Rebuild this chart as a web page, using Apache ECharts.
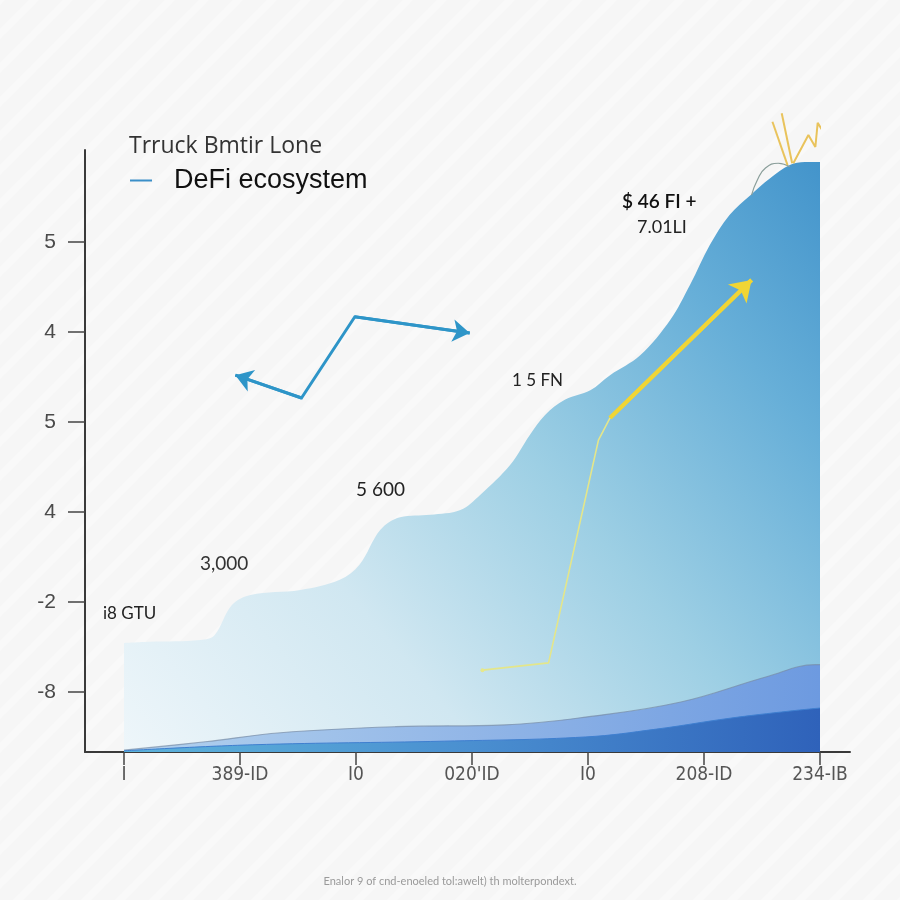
<!DOCTYPE html>
<html>
<head>
<meta charset="utf-8">
<script src="https://cdn.jsdelivr.net/npm/echarts@6/dist/echarts.min.js"></script>
<style>html,body{margin:0;padding:0;background:#f6f6f6}#c{width:900px;height:900px}</style>
</head>
<body>
<div id="c"></div>
<script>
// ---- tick labels ----
const xLabels = ['I', '389-ID', 'I0', "020'ID", 'I0', '208-ID', '234-IB'];
const yTickLabels = ['-8', '-2', '4', '5', '4', '5']; // bottom to top

// ---- main area (DeFi ecosystem) ----
const mainX = [0, 0.22, 0.66, 0.78, 0.93, 1.09, 1.52, 1.86, 2.03, 2.21, 2.38, 2.64, 2.90, 3.07, 3.33, 3.50, 3.63, 3.80, 4.02, 4.19, 4.45, 4.71, 4.88, 5.05, 5.22, 5.40, 5.57, 5.74, 5.87, 6.00];
const mainY = [18.1, 18.3, 18.6, 19.4, 24.4, 26.1, 26.9, 28.6, 31.1, 36.9, 39.0, 39.4, 40.2, 42.7, 47.7, 52.7, 56.0, 58.5, 60.1, 62.6, 65.9, 71.8, 77.6, 84.2, 89.2, 92.5, 95.3, 97.5, 98.0, 98.0];

// ---- middle band ----
const midX = [0, 0.70, 1.35, 2.34, 3.28, 3.98, 4.80, 5.54, 5.96, 6.00];
const midY = [0.3, 1.7, 3.2, 4.2, 4.5, 5.8, 8.3, 12.5, 14.5, 14.5];

// ---- lower band ----
const lowX = [0, 1.11, 2.76, 3.98, 4.59, 5.22, 5.74, 6.00];
const lowY = [0.2, 1.2, 1.8, 2.5, 3.8, 5.6, 6.8, 7.3];

// ---- yellow trend line ----
const yelThinX = [3.09, 3.66, 4.09, 4.19];
const yelThinY = [13.6, 14.8, 51.8, 55.5];
const yelThickX = [4.19, 5.41];
const yelThickY = [55.5, 78.4];

// ---- blue zigzag arrow ----
const zigX = [0.96, 1.53, 1.99, 2.98];
const zigY = [62.6, 58.8, 72.3, 69.6];

// ---- decorations at peak ----
const curlX = [5.41, 5.46, 5.53, 5.64, 5.74];
const curlY = [92.5, 95.0, 97.0, 97.8, 97.2];
const spikeAX = [5.59, 5.72], spikeAY = [104.7, 97.5];
const spikeBX = [5.67, 5.76], spikeBY = [106.1, 97.8];
const zigTopX = [5.77, 5.90, 5.96, 5.98, 6.03, 6.09, 6.10];
const zigTopY = [97.8, 102.5, 100.5, 104.5, 103.0, 104.2, 105.3];

const zip = (a, b) => a.map((v, i) => [v, b[i]]);
const G = echarts.graphic;

// very faint diagonal background stripes
const pc = document.createElement('canvas');
pc.width = 34; pc.height = 34;
const pctx = pc.getContext('2d');
pctx.fillStyle = '#f6f6f6';
pctx.fillRect(0, 0, 34, 34);
pctx.strokeStyle = '#f9f9f9';
pctx.lineWidth = 7;
[[-34, 34, 34, -34], [0, 34, 34, 0], [0, 68, 68, 0]].forEach(l => {
  pctx.beginPath(); pctx.moveTo(l[0], l[1]); pctx.lineTo(l[2], l[3]); pctx.stroke();
});

const chart = echarts.init(document.getElementById('c'), null, {renderer: 'canvas'});

const txt = (t, x, y, size, color, extra) => ({
  type: 'text', left: x, top: y,
  style: Object.assign({text: t, fontSize: size, fill: color, fontFamily: 'Lato, "Liberation Sans", sans-serif'}, extra || {})
});

const option = {
  backgroundColor: {image: pc, repeat: 'repeat'},
  animation: false,
  title: {
    text: 'Trruck Bmtir Lone', left: 124, top: 130,
    textStyle: {fontSize: 23, fontWeight: 'normal', color: '#333', fontFamily: '"Open Sans", "Liberation Sans", sans-serif'}
  },
  legend: {
    left: 125, top: 162, icon: 'rect', itemWidth: 22, itemHeight: 2,
    data: [{name: 'DeFi ecosystem', itemStyle: {color: '#3a8fc8'}}],
    textStyle: {fontSize: 27, color: '#111', padding: [0, 0, 0, 17], fontFamily: '"Liberation Sans", Arial, sans-serif'}
  },
  grid: [
    {left: 85, right: 50, top: 150, bottom: 148},
    {left: 85, right: 50, top: 242, bottom: 208},
    {left: 124, right: 80, top: 150, bottom: 148}
  ],
  xAxis: [
    {gridIndex: 0, type: 'value', min: 0, max: 1, axisLine: {show: true, lineStyle: {color: '#3a3a3a', width: 2}}, axisTick: {show: false}, axisLabel: {show: false}, splitLine: {show: false}},
    {gridIndex: 1, type: 'value', min: 0, max: 1, show: false},
    {gridIndex: 2, type: 'value', min: 0, max: 6, interval: 1,
      axisLine: {show: false}, splitLine: {show: false},
      axisTick: {show: true, length: 13, lineStyle: {color: '#444', width: 1.5}},
      axisLabel: {margin: 14, fontSize: 19, color: '#555', fontFamily: '"DejaVu Sans Condensed", "Liberation Sans Narrow", sans-serif',
        formatter: v => xLabels[Math.round(v)] || ''}}
  ],
  yAxis: [
    {gridIndex: 0, type: 'value', min: 0, max: 1, axisLine: {show: true, lineStyle: {color: '#3a3a3a', width: 2}}, axisTick: {show: false}, axisLabel: {show: false}, splitLine: {show: false}},
    {gridIndex: 1, type: 'value', min: 0, max: 5, interval: 1,
      axisLine: {show: false}, splitLine: {show: false},
      axisTick: {show: true, length: 17, lineStyle: {color: '#444', width: 1.5}},
      axisLabel: {margin: 29, fontSize: 21, color: '#4a4a4a', fontFamily: '"Liberation Sans", Arial, sans-serif',
        formatter: v => yTickLabels[Math.round(v)] || ''}},
    {gridIndex: 2, type: 'value', min: 0, max: 100, show: false}
  ],
  series: [
    {
      name: 'DeFi ecosystem', type: 'line', xAxisIndex: 2, yAxisIndex: 2,
      data: zip(mainX, mainY), smooth: 0.35, symbol: 'none', clip: false,
      lineStyle: {width: 0},
      areaStyle: {opacity: 1, color: new G.LinearGradient(0, 1, 1, 0, [
        {offset: 0, color: '#eef6fa'},
        {offset: 0.3, color: '#d0e7f1'},
        {offset: 0.55, color: '#9dcfe4'},
        {offset: 0.8, color: '#67afd8'},
        {offset: 1, color: '#4394cb'}
      ])},
      z: 1
    },
    {
      name: 'mid', type: 'line', xAxisIndex: 2, yAxisIndex: 2,
      data: zip(midX, midY), smooth: 0.4, symbol: 'none',
      lineStyle: {width: 1.2, color: 'rgba(120,140,165,0.7)'},
      areaStyle: {opacity: 1, color: new G.LinearGradient(0, 0, 1, 0, [
        {offset: 0, color: '#b3d2ee'},
        {offset: 0.5, color: '#92b6e7'},
        {offset: 1, color: '#6d9ae0'}
      ])},
      z: 2
    },
    {
      name: 'low', type: 'line', xAxisIndex: 2, yAxisIndex: 2,
      data: zip(lowX, lowY), smooth: 0.4, symbol: 'none',
      lineStyle: {width: 1, color: '#3f7fcf'},
      areaStyle: {opacity: 1, color: new G.LinearGradient(0, 0, 1, 0, [
        {offset: 0, color: '#5db3db'},
        {offset: 0.5, color: '#4a8fd0'},
        {offset: 1, color: '#2f62ba'}
      ])},
      z: 3
    },
    {
      name: 'trendThin', type: 'line', xAxisIndex: 2, yAxisIndex: 2,
      data: zip(yelThinX, yelThinY).map((p, i) => i === 0 ? {value: p, symbol: 'circle', symbolSize: 4} : {value: p, symbol: 'none'}),
      showSymbol: true, itemStyle: {color: '#e6e88c'},
      lineStyle: {width: 1.6, color: '#e4e68a'}, z: 5
    },
    {
      name: 'trendThick', type: 'line', xAxisIndex: 2, yAxisIndex: 2,
      data: zip(yelThickX, yelThickY), symbol: 'none',
      lineStyle: {width: 4, color: '#f0d535'},
      markLine: {
        silent: true, symbol: ['none', 'arrow'], symbolSize: 20,
        lineStyle: {type: 'solid', width: 4, color: '#f0d535'}, label: {show: false},
        data: [[{coord: [yelThickX[0], yelThickY[0]]}, {coord: [yelThickX[1], yelThickY[1]]}]]
      },
      z: 6
    },
    {
      name: 'zigzag', type: 'line', xAxisIndex: 2, yAxisIndex: 2, clip: false,
      data: zip(zigX, zigY), symbol: 'none',
      lineStyle: {width: 3, color: '#2e95c8', join: 'miter'},
      markLine: {
        silent: true, symbol: ['none', 'arrow'], symbolSize: 17,
        lineStyle: {type: 'solid', width: 3, color: '#2e95c8'}, label: {show: false},
        data: [
          [{coord: [zigX[1], zigY[1]]}, {coord: [zigX[0], zigY[0]]}],
          [{coord: [zigX[2], zigY[2]]}, {coord: [zigX[3], zigY[3]]}]
        ]
      },
      z: 6
    },
    {
      name: 'curl', type: 'line', xAxisIndex: 2, yAxisIndex: 2, clip: false,
      data: zip(curlX, curlY), smooth: true, symbol: 'none',
      lineStyle: {width: 1.2, color: '#8a9e9a'}, z: 6
    },
    {
      name: 'spikeA', type: 'line', xAxisIndex: 2, yAxisIndex: 2, clip: false,
      data: zip(spikeAX, spikeAY), symbol: 'none',
      lineStyle: {width: 2, color: '#e9c35c'}, z: 6
    },
    {
      name: 'spikeB', type: 'line', xAxisIndex: 2, yAxisIndex: 2, clip: false,
      data: zip(spikeBX, spikeBY), symbol: 'none',
      lineStyle: {width: 2, color: '#e9c35c'}, z: 6
    },
    {
      name: 'spikeZ', type: 'line', xAxisIndex: 2, yAxisIndex: 2, clip: false,
      data: zip(zigTopX, zigTopY), symbol: 'none',
      lineStyle: {width: 2, color: '#e9c35c'}, z: 6
    }
  ],
  graphic: [
    txt('i8 GTU', 103, 605, 17, '#222'),
    txt('3,000', 200, 554, 19, '#333'),
    txt('5 600', 356, 480, 19, '#222'),
    txt('1 5 FN', 512, 372, 17, '#222'),
    txt('$ 46 FI +', 622, 192, 19, '#111', {fontWeight: 600}),
    txt('7.01LI', 637, 218, 18, '#222'),
    {type: 'text', left: 'center', top: 876,
      style: {text: 'Enalor 9 of cnd-enoeled tol:awelt) th molterpondext.', fontSize: 11, fill: '#9a9a9a', fontFamily: 'Lato, sans-serif'}}
  ]
};
chart.setOption(option);
</script>
</body>
</html>
